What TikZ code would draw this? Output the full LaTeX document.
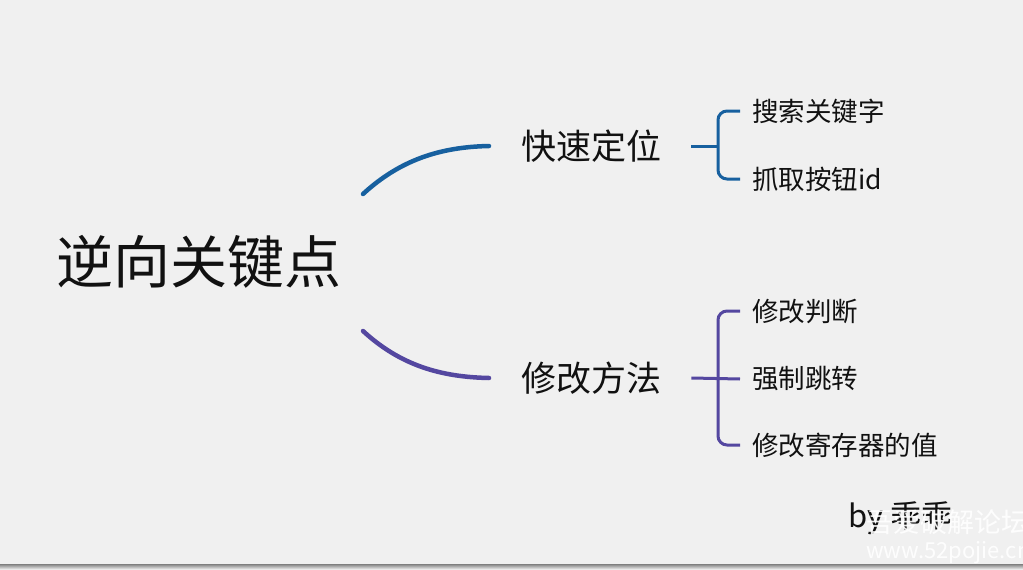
\documentclass[tikz,border=0pt]{standalone}
\usepackage{fontspec}
\setmainfont{Noto Sans CJK SC}
\usetikzlibrary{positioning}
\definecolor{bg}{HTML}{F0F0F0}
\definecolor{shade}{HTML}{D2D2D2}
\definecolor{bluebr}{HTML}{17609F}
\definecolor{purplebr}{HTML}{5447A0}
\definecolor{ink}{HTML}{111111}
\tikzset{rootnode/.style={inner sep=0pt,anchor=center,text=ink,font=\fontsize{57}{60}\selectfont},
 topic/.style={inner sep=0pt,anchor=west,text=ink,font=\fontsize{35}{38}\selectfont},
 leaf/.style={inner sep=0pt,anchor=west,text=ink,font=\fontsize{26.5}{29}\selectfont},
 branch/.style={line width=4.5pt,line cap=round},
 brace/.style={line width=3pt,rounded corners=9pt}}

\begin{document}
\begin{tikzpicture}[x=1pt,y=-1pt]
\useasboundingbox (0,0) rectangle (1023,570);
\fill[bg] (0,0) rectangle (1023,570);
\fill[shade] (0,564) rectangle (1023,570);
% main topic
\node[rootnode] (root) at (199,262) {逆向关键点};
\coordinate (rootup) at (363,194);
\coordinate (rootdown) at (363,331);
% two branches
\node[topic] (fast) at (521,146) {快速定位};
\node[topic] (modify) at (521,378) {修改方法};
\coordinate (fastin) at (489,146);
\coordinate (modin) at (489,378);
\draw[branch,bluebr] (rootup) .. controls (400,160) and (440,147) .. (fastin);
\draw[branch,purplebr] (rootdown) .. controls (400,365) and (440,377) .. (modin);
% leaves
\node[leaf] (search) at (752,111) {搜索关键字};
\node[leaf] (grab) at (752,179) {抓取按钮id};
\node[leaf] (judge) at (752,311) {修改判断};
\node[leaf] (jump) at (752,379) {强制跳转};
\node[leaf] (reg) at (752,445) {修改寄存器的值};
\draw[brace,bluebr] ([xshift=30pt]fast.east) -- ++(26,0);
\draw[brace,bluebr] ([xshift=-12pt]search.west) -| (718,146) |- ([xshift=-12pt]grab.west);
\draw[brace,purplebr] ([xshift=30pt]modify.east) -- ([xshift=-12pt]jump.west);
\draw[brace,purplebr] ([xshift=-12pt]judge.west) -| (718,379) |- ([xshift=-12pt]reg.west);
% signature and watermark
\node[inner sep=0pt,anchor=west,text=ink,font=\fontsize{31}{33}\selectfont] (sign) at (848,518) {by 乖乖};
\node[inner sep=0pt,anchor=west,text=white,opacity=.9,font=\fontsize{27}{30}\selectfont] (mark) at (866,522) {吾爱破解论坛};
\node[inner sep=0pt,anchor=west,text=white,opacity=.9,font=\fontsize{22}{25}\selectfont] (site) at (866,553) {www.52pojie.cn};
\end{tikzpicture}
\end{document}
